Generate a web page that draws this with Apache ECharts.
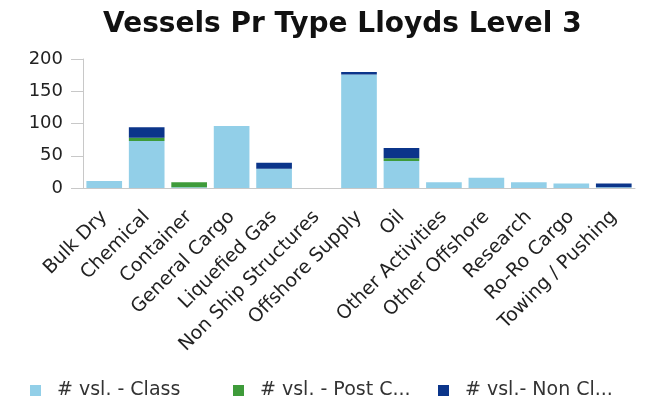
<!DOCTYPE html>
<html>
<head>
<meta charset="utf-8">
<script src="https://cdn.jsdelivr.net/npm/echarts@6/dist/echarts.min.js"></script>
<style>
  html, body { margin: 0; padding: 0; background: #fff; }
  #main { width: 651px; height: 406px; }
</style>
</head>
<body>
<div id="main"></div>
<script>
// data
var categories = ['Bulk Dry', 'Chemical', 'Container', 'General Cargo', 'Liquefied Gas',
    'Non Ship Structures', 'Offshore Supply', 'Oil', 'Other Activities', 'Other Offshore',
    'Research', 'Ro-Ro Cargo', 'Towing / Pushing'];
var vslClass    = [11, 73, 1, 96, 30, 0, 176, 42, 9, 16, 9, 7, 1];
var vslPostCl   = [0, 5, 8, 0, 0, 0, 0, 4, 0, 0, 0, 0, 0];
var vslNonClass = [0, 16, 0, 0, 9, 0, 4, 16, 0, 0, 0, 0, 6];
var yTicks = [0, 50, 100, 150, 200];

var seriesNames  = ['# vsl. - Class', '# vsl. - Post Class', '# vsl.- Non Class'];
var legendLabels = ['# vsl. - Class', '# vsl. - Post C...', '# vsl.- Non Cl...'];
var colors = ['#92cfe8', '#3e9b3a', '#0b358a'];
var fontFam = 'DejaVu Sans';

// one legend per series so every item sits in its own fixed slot
var legendLeft = [25, 228, 433];
var legends = seriesNames.map(function (name, i) {
    return {
        left: legendLeft[i],
        bottom: 1,
        itemWidth: 11,
        itemHeight: 11,
        icon: 'rect',
        selectedMode: false,
        data: [name],
        formatter: function () {
            return legendLabels[i];
        },
        textStyle: {
            fontFamily: fontFam,
            fontSize: 19,
            color: '#333',
            padding: [0, 0, 0, 11]
        }
    };
});

var myChart = echarts.init(document.getElementById('main'));
var option = {
    animation: false,
    color: colors,
    title: {
        text: 'Vessels Pr Type Lloyds Level 3',
        left: 98,
        top: 6,
        textStyle: {
            fontFamily: fontFam,
            fontWeight: 'bold',
            fontSize: 28,
            color: '#111'
        }
    },
    legend: legends,
    grid: {
        left: 83,
        right: 16,
        top: 59,
        bottom: 218
    },
    xAxis: {
        type: 'category',
        data: categories,
        axisLine: { lineStyle: { color: '#c8c8c8', width: 1 } },
        axisTick: { alignWithLabel: true, length: 12, lineStyle: { color: '#c8c8c8' } },
        axisLabel: {
            interval: 0,
            rotate: 45,
            margin: 26,
            fontFamily: fontFam,
            fontSize: 19,
            color: '#222'
        }
    },
    yAxis: {
        type: 'value',
        min: yTicks[0],
        max: yTicks[yTicks.length - 1],
        interval: yTicks[1] - yTicks[0],
        axisLine: { show: true, lineStyle: { color: '#c8c8c8', width: 1 } },
        axisTick: { show: true, length: 12, lineStyle: { color: '#c8c8c8' } },
        splitLine: { show: false },
        axisLabel: {
            margin: 20,
            fontFamily: fontFam,
            fontSize: 18,
            color: '#222'
        }
    },
    series: [
        { name: seriesNames[0], type: 'bar', stack: 'vsl', data: vslClass, barCategoryGap: '16%' },
        { name: seriesNames[1], type: 'bar', stack: 'vsl', data: vslPostCl },
        { name: seriesNames[2], type: 'bar', stack: 'vsl', data: vslNonClass }
    ]
};
myChart.setOption(option);
</script>
</body>
</html>
